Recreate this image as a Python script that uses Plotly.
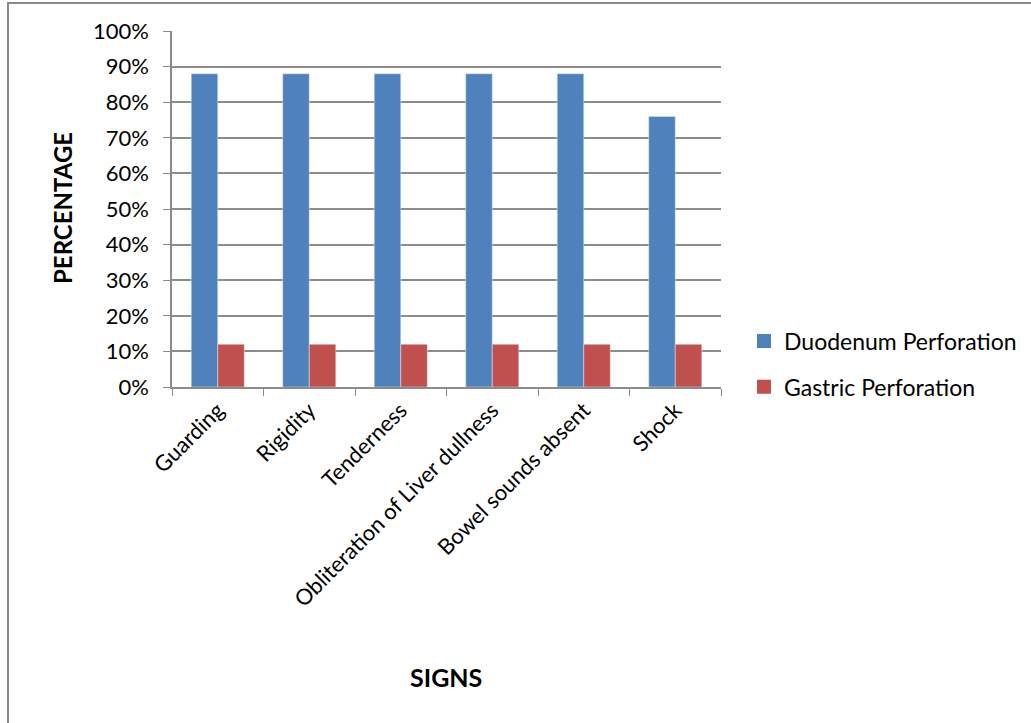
import plotly.graph_objects as go

# Clinical signs and share of cases per perforation site
signs = ["Guarding", "Rigidity", "Tenderness", "Obliteration of Liver dullness",
         "Bowel sounds absent", "Shock"]
duodenum_pct = [88, 88, 88, 88, 88, 76]
gastric_pct = [12, 12, 12, 12, 12, 12]
y_ticks = [0, 10, 20, 30, 40, 50, 60, 70, 80, 90, 100]
y_tick_text = [f"{v}%" for v in y_ticks]

W, H = 1031, 723
L, R, T, B = 172, 310, 31, 336
pw, ph = W - L - R, H - T - B


def px_x(p):
    return (p - L) / pw


def px_y(p):
    return (H - B - p) / ph


FONT = "Lato, Calibri, sans-serif"
GRID = "#8c8c8c"
BLUE, RED = "#4F81BD", "#C0504D"

fig = go.Figure()
fig.add_trace(go.Bar(name="Duodenum Perforation", x=signs, y=duodenum_pct,
                     marker_color=BLUE, showlegend=False))
fig.add_trace(go.Bar(name="Gastric Perforation", x=signs, y=gastric_pct,
                     marker_color=RED, showlegend=False))

# Legend entries with larger square swatches
for name, color, grp in [("Duodenum Perforation", BLUE, "a"),
                         ("Gastric Perforation", RED, "b")]:
    fig.add_trace(go.Scatter(name=name, x=[None], y=[None], mode="markers",
                             marker=dict(symbol="square", size=14, color=color),
                             legendgroup=grp, showlegend=True))

fig.update_layout(
    width=W, height=H,
    margin=dict(l=L, r=R, t=T, b=B, autoexpand=False),
    paper_bgcolor="white", plot_bgcolor="white",
    barmode="group", bargap=0.42, bargroupgap=0,
    font=dict(family=FONT, size=22, color="black"),
    showlegend=True,
    legend=dict(x=px_x(744), y=px_y(364), xanchor="left", yanchor="middle",
                traceorder="grouped", tracegroupgap=13,
                font=dict(family=FONT, size=23, color="black"),
                bgcolor="rgba(0,0,0,0)"),
    xaxis=dict(showline=True, linecolor=GRID, linewidth=1.5,
               ticks="outside", tickson="boundaries", ticklen=7, tickcolor=GRID,
               tickangle=-45, tickfont=dict(family=FONT, size=22),
               showgrid=False),
    yaxis=dict(range=[0, 100], tickvals=y_ticks, ticktext=y_tick_text,
               showline=True, linecolor=GRID, linewidth=1.5,
               ticks="outside", ticklen=7, tickcolor=GRID,
               ticklabelstandoff=10,
               showgrid=True, gridcolor=GRID, gridwidth=1.5,
               tickfont=dict(family=FONT, size=22), zeroline=False),
    annotations=[
        dict(text="<b>PERCENTAGE</b>", x=px_x(62), y=px_y(208), xref="paper",
             yref="paper", xanchor="center", yanchor="middle",
             textangle=-90, showarrow=False,
             font=dict(family=FONT, size=24, color="black")),
        dict(text="<b>SIGNS</b>", x=px_x(446), y=px_y(677), xref="paper",
             yref="paper", xanchor="center", yanchor="middle", showarrow=False,
             font=dict(family=FONT, size=25, color="black")),
    ],
    shapes=[
        dict(type="rect", xref="paper", yref="paper",
             x0=px_x(8), x1=px_x(1060), y0=px_y(760), y1=px_y(3),
             line=dict(color="#8a8a8a", width=2), fillcolor="rgba(0,0,0,0)",
             layer="below"),
    ],
)

fig.write_html("out.html")
